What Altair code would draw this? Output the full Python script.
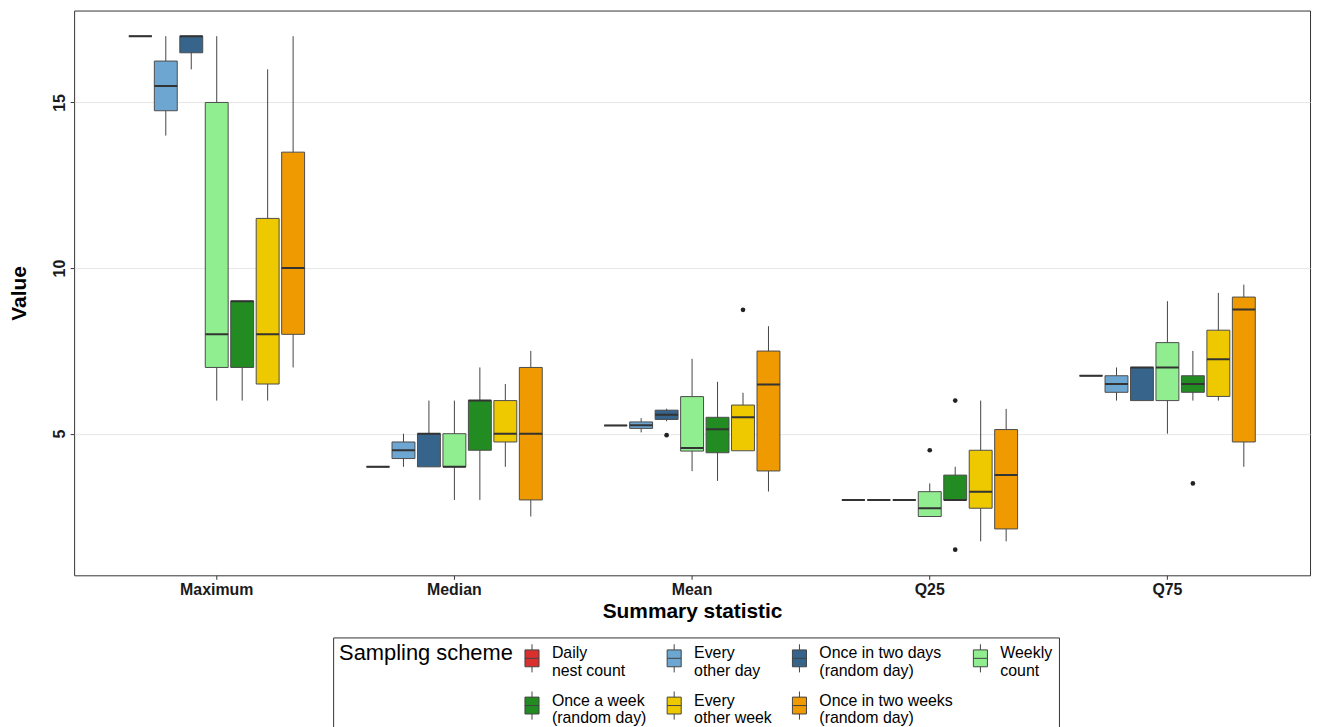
import altair as alt
import pandas as pd

statistics = ["Maximum", "Median", "Mean", "Q25", "Q75"]
schemes = [
    "Daily\n\u2005nest count",
    "Every\n\u2005other day",
    "Once in two days\n\u2005(random day)",
    "Weekly\n\u2005count",
    "Once a week\n\u2005(random day)",
    "Every\n\u2005other week",
    "Once in two weeks\n\u2005(random day)",
]
colors = ["#d7302f", "#6ca6d1", "#36648b", "#90ee90", "#228b22", "#eec900", "#ee9a00"]

# whisker low, Q1, median, Q3, whisker high  (one value per scheme)
max_lower = [17, 14, 16, 6, 6, 6, 7]
max_q1 = [17, 14.75, 16.5, 7, 7, 6.5, 8]
max_median = [17, 15.5, 17, 8, 9, 8, 10]
max_q3 = [17, 16.25, 17, 15, 9, 11.5, 13.5]
max_upper = [17, 17, 17, 17, 9, 16, 17]

med_lower = [4, 4, 4, 3, 3, 4, 2.5]
med_q1 = [4, 4.25, 4, 4, 4.5, 4.75, 3]
med_median = [4, 4.5, 5, 4, 6, 5, 5]
med_q3 = [4, 4.75, 5, 5, 6, 6, 7]
med_upper = [4, 5, 6, 6, 7, 6.5, 7.5]

mean_lower = [5.25, 5.04, 5.375, 3.87, 3.575, 4.485, 3.255]
mean_q1 = [5.25, 5.16, 5.43, 4.475, 4.425, 4.485, 3.875]
mean_median = [5.25, 5.255, 5.575, 4.565, 5.135, 5.495, 6.485]
mean_q3 = [5.25, 5.355, 5.71, 6.12, 5.495, 5.865, 7.495]
mean_upper = [5.25, 5.47, 5.755, 7.26, 6.565, 6.235, 8.245]

q25_lower = [3, 3, 3, 2.5, 3, 1.75, 1.75]
q25_q1 = [3, 3, 3, 2.5, 3, 2.75, 2.125]
q25_median = [3, 3, 3, 2.75, 3, 3.25, 3.75]
q25_q3 = [3, 3, 3, 3.25, 3.75, 4.5, 5.125]
q25_upper = [3, 3, 3, 3.5, 4, 6, 5.75]

q75_lower = [6.75, 6, 6, 5, 6, 6, 4]
q75_q1 = [6.75, 6.25, 6, 6, 6.25, 6.125, 4.75]
q75_median = [6.75, 6.5, 7, 7, 6.5, 7.25, 8.75]
q75_q3 = [6.75, 6.75, 7, 7.75, 6.75, 8.125, 9.125]
q75_upper = [6.75, 7, 7, 9, 7.5, 9.25, 9.5]

outlier_stat = ["Mean", "Mean", "Q25", "Q25", "Q25", "Q75"]
outlier_scheme = [2, 5, 3, 4, 4, 4]
outlier_value = [4.955, 8.74, 4.5, 6.0, 1.5, 3.5]

y_domain = [0.725, 17.775]

stat_arrays = {
    "Maximum": (max_lower, max_q1, max_median, max_q3, max_upper),
    "Median": (med_lower, med_q1, med_median, med_q3, med_upper),
    "Mean": (mean_lower, mean_q1, mean_median, mean_q3, mean_upper),
    "Q25": (q25_lower, q25_q1, q25_median, q25_q3, q25_upper),
    "Q75": (q75_lower, q75_q1, q75_median, q75_q3, q75_upper),
}
rows = []
for st in statistics:
    lo, q1, md, q3, hi = stat_arrays[st]
    for i, sc in enumerate(schemes):
        rows.append(dict(stat=st, scheme=sc, lower=lo[i], q1=q1[i], median=md[i], q3=q3[i], upper=hi[i]))
df = pd.DataFrame(rows)
out_df = pd.DataFrame(dict(stat=outlier_stat,
                           scheme=[schemes[i] for i in outlier_scheme],
                           value=outlier_value))

FONT = "Liberation Sans"
x_enc = alt.X("stat:N", sort=statistics,
              scale=alt.Scale(domain=statistics, paddingInner=0.25, paddingOuter=0.225),
              axis=alt.Axis(title="Summary statistic", labelAngle=0, grid=False, domain=False,
                            tickSize=4, tickColor="#333333", labelPadding=2,
                            labelFont=FONT, labelFontSize=16, labelFontWeight="bold", labelColor="#1a1a1a",
                            titleFont=FONT, titleFontSize=21, titleFontWeight="bold", titleColor="#000000",
                            titlePadding=3))
xo_enc = alt.XOffset("scheme:N", sort=schemes,
                     scale=alt.Scale(domain=schemes, paddingInner=0.1, paddingOuter=0.05))
y_scale = alt.Scale(domain=y_domain, nice=False, zero=False)
y_axis = alt.Axis(title="Value", values=[5, 10, 15], grid=True, gridColor="#e6e6e6", gridWidth=1,
                  domain=False, tickSize=4, tickColor="#333333", labelAngle=270,
                  labelAlign="center", labelBaseline="alphabetic", labelPadding=6,
                  labelFont=FONT, labelFontSize=16, labelFontWeight="bold", labelColor="#1a1a1a",
                  titleFont=FONT, titleFontSize=21, titleFontWeight="bold", titleColor="#000000",
                  titlePadding=22)

base = alt.Chart(df)
whiskers = base.mark_rule(color="#444444", strokeWidth=1).encode(
    x=x_enc, xOffset=xo_enc,
    y=alt.Y("lower:Q", scale=y_scale, axis=y_axis),
    y2="upper:Q",
)
boxes = base.mark_bar(stroke="#4d4d4d", strokeWidth=1).encode(
    x=x_enc, xOffset=xo_enc,
    y=alt.Y("q1:Q", scale=y_scale),
    y2="q3:Q",
    fill=alt.Fill("scheme:N", sort=schemes,
                  scale=alt.Scale(domain=schemes, range=colors),
                  legend=alt.Legend(
                      title="Sampling scheme", orient="none", legendX=260.5, legendY=630.5,
                      direction="horizontal", columns=4, columnPadding=12, rowPadding=9.5,
                      titleOrient="left", titleAnchor="start", titleBaseline="top",
                      titleFont=FONT, titleFontSize=22, titleFontWeight="normal", titleColor="#000000",
                      titlePadding=4,
                      labelFont=FONT, labelFontSize=16, labelColor="#000000", labelOffset=5,
                      labelBaseline="alphabetic", labelLimit=300,
                      labelExpr="split(datum.label, '\\n')",
                      symbolType="M-0.5,-0.6H0.5V0.6H-0.5Z M0,-1V-0.6 M0,0.6V1 M-0.5,0H0.5",
                      symbolSize=800, symbolStrokeColor="#444444", symbolStrokeWidth=1,
                      symbolOpacity=1,
                      strokeColor="#333333", fillColor="#ffffff", padding=6,
                  )),
)
medians = base.mark_bar(stroke="#333333", strokeWidth=2, fill="#333333").encode(
    x=x_enc, xOffset=xo_enc,
    y=alt.Y("median:Q", scale=y_scale),
    y2="median:Q",
)
outliers = alt.Chart(out_df).mark_circle(color="#222222", size=22, opacity=1).encode(
    x=x_enc, xOffset=xo_enc,
    y=alt.Y("value:Q", scale=y_scale),
)

chart = alt.layer(whiskers, boxes, medians, outliers).properties(
    width=1243, height=568,
    autosize=alt.AutoSizeParams(type="none"),
    padding={"left": 66.5, "top": 0.5, "right": 5, "bottom": 150},
    background="#ffffff",
).configure_view(stroke="#333333", strokeWidth=1, strokeOpacity=1)

chart.save("out.html", embed_options={"renderer": "svg", "actions": False})
